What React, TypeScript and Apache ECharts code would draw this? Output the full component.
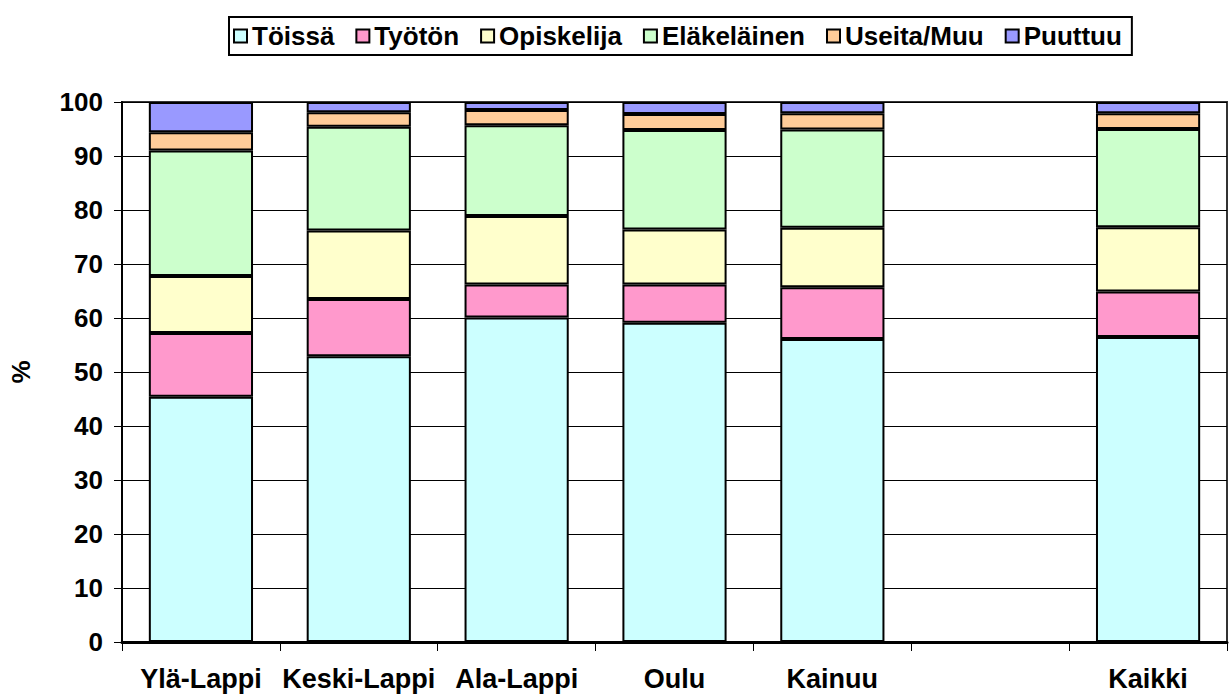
import React, { useEffect, useRef } from "react";
import * as echarts from "echarts";

const categories = ["Ylä-Lappi", "Keski-Lappi", "Ala-Lappi", "Oulu", "Kainuu", "", "Kaikki"];
const seriesNames = ["Töissä", "Työtön", "Opiskelija", "Eläkeläinen", "Useita/Muu", "Puuttuu"];
const toissa = [45.4, 52.9, 60.1, 59.1, 56.1, null, 56.5];
const tyoton = [11.8, 10.6, 6.1, 7.1, 9.6, null, 8.4];
const opiskelija = [10.6, 12.7, 12.7, 10.2, 11.0, null, 11.9];
const elakelainen = [23.2, 19.2, 16.8, 18.4, 18.2, null, 18.2];
const useita = [3.4, 2.7, 2.8, 3.0, 3.0, null, 2.9];
const puuttuu = [5.6, 1.9, 1.5, 2.2, 2.1, null, 2.1];
const colors = ["#CCFFFF", "#FF99CC", "#FFFFCC", "#CCFFCC", "#FFCC99", "#9999FF"];
const yTicks = { min: 0, max: 100, interval: 10 };

const FONT = "'Liberation Sans', Arial, sans-serif";

export default function App() {
  const ref = useRef<HTMLDivElement>(null);
  useEffect(() => {
    if (!ref.current) return;
    const chart = echarts.init(ref.current, null, { renderer: "svg" });
    const values = [toissa, tyoton, opiskelija, elakelainen, useita, puuttuu];
    chart.setOption({
      animation: false,
      backgroundColor: "#ffffff",
      textStyle: { fontFamily: FONT, color: "#000" },
      legend: {
        left: 229,
        top: 17,
        orient: "horizontal",
        data: seriesNames,
        icon: "rect",
        itemWidth: 13,
        itemHeight: 13,
        itemGap: 21,
        padding: [6, 10, 6, 4],
        borderColor: "#000",
        borderWidth: 2,
        backgroundColor: "#fff",
        textStyle: { fontFamily: FONT, fontWeight: "bold", fontSize: 26, color: "#000" },
        itemStyle: { borderColor: "#000", borderWidth: 2 },
      },
      grid: {
        left: 117,
        right: 2,
        top: 102,
        bottom: 56,
        show: true,
        borderColor: "#333",
        borderWidth: 2,
        containLabel: false,
      },
      xAxis: {
        type: "category",
        data: categories,
        boundaryGap: true,
        axisLine: { show: true, lineStyle: { color: "#000", width: 3 } },
        axisTick: { show: true, length: 9, interval: 0, lineStyle: { color: "#000", width: 1 } },
        axisLabel: {
          interval: 0,
          margin: 23,
          fontFamily: FONT,
          fontWeight: "bold",
          fontSize: 27,
          color: "#000",
        },
      },
      yAxis: {
        type: "value",
        min: yTicks.min,
        max: yTicks.max,
        interval: yTicks.interval,
        name: "%",
        nameLocation: "middle",
        nameGap: 88,
        nameRotate: 90,
        nameTextStyle: { fontFamily: FONT, fontWeight: "bold", fontSize: 26, color: "#000" },
        axisLine: { show: true, lineStyle: { color: "#000", width: 2 } },
        axisTick: { show: true, length: 8, lineStyle: { color: "#000", width: 1 } },
        axisLabel: {
          margin: 19,
          fontFamily: FONT,
          fontWeight: "bold",
          fontSize: 26,
          color: "#000",
        },
        splitLine: { show: true, lineStyle: { color: "#000", width: 1 } },
      },
      series: seriesNames.map((name, i) => ({
        name,
        type: "bar",
        stack: "total",
        data: values[i],
        barCategoryGap: "34%",
        itemStyle: { color: colors[i], borderColor: "#000", borderWidth: 2 },
      })),
    });
    return () => chart.dispose();
  }, []);
  return (
    <div
      ref={ref}
      style={{ position: "fixed", left: 0, top: 0, width: 1229, height: 698, background: "#fff" }}
    />
  );
}
